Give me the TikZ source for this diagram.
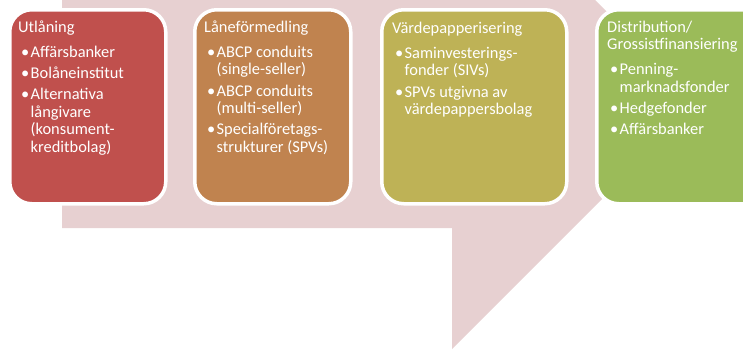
\documentclass[tikz,border=0pt]{standalone}
\usepackage{fontspec}
\setmainfont{Carlito}
\definecolor{cred}{HTML}{C0504D}
\definecolor{cbrown}{HTML}{C0834F}
\definecolor{colive}{HTML}{BEB256}
\definecolor{cgreen}{HTML}{9BBB59}
\definecolor{cpink}{HTML}{E7D0D1}
\newcommand\nl{\hfil\break}
\newcommand\bitem[1]{\par\vspace{3.6pt}\hangindent=12.5pt\hangafter=1\noindent\hspace*{3pt}\makebox[9.5pt][l]{•}#1}
\newcommand\boxtext[1]{\parbox[t]{180pt}{\raggedright\parindent=0pt\fontsize{16.4}{17.6}\selectfont #1}}
\begin{document}
\begin{tikzpicture}[x=1pt,y=-1pt,
  box/.style={draw=white, line width=3.5pt, rounded corners=22pt, anchor=north west, minimum height=194pt, inner sep=0pt},
  txt/.style={anchor=base west, inner sep=0pt, text=white}]
\useasboundingbox (0,0) rectangle (743,349);
\clip (0,0) rectangle (743,349);
\fill[cpink] (62,-22) -- (452,-22) -- (452,-143) -- (698,103) -- (452,349) -- (452,228) -- (62,228) -- cycle;
\node[box, fill=cred, minimum width=156pt] (b1) at (8,8) {};
\node[box, fill=cbrown, minimum width=156pt] (b2) at (193,8) {};
\node[box, fill=colive, minimum width=185pt] (b3) at (380,8) {};
\node[box, fill=cgreen, minimum width=190pt] (b4) at (595,8) {};
\node[txt] (t1) at (18,32) {\boxtext{Utlåning\par\vspace{4pt}%
\bitem{Affärsbanker}\bitem{Bolåneinstitut}\bitem{Alternativa\nl långivare\nl (konsument-\nl kreditbolag)}}};
\node[txt] (t2) at (204,32) {\boxtext{Låneförmedling\par\vspace{4pt}%
\bitem{ABCP conduits\nl (single-seller)}\bitem{ABCP conduits\nl (multi-seller)}\bitem{Specialföretags-\nl strukturer (SPVs)}}};
\node[txt] (t3) at (392,33) {\boxtext{Värdepapperisering\par\vspace{4pt}%
\bitem{Saminvesterings-\nl fonder (SIVs)}\bitem{SPVs utgivna av\nl värdepappersbolag}}};
\node[txt] (t4) at (607,32) {\boxtext{Distribution/\nl Grossistfinansiering\par\vspace{4pt}%
\bitem{Penning-\nl marknadsfonder}\bitem{Hedgefonder}\bitem{Affärsbanker}}};
\end{tikzpicture}
\end{document}
